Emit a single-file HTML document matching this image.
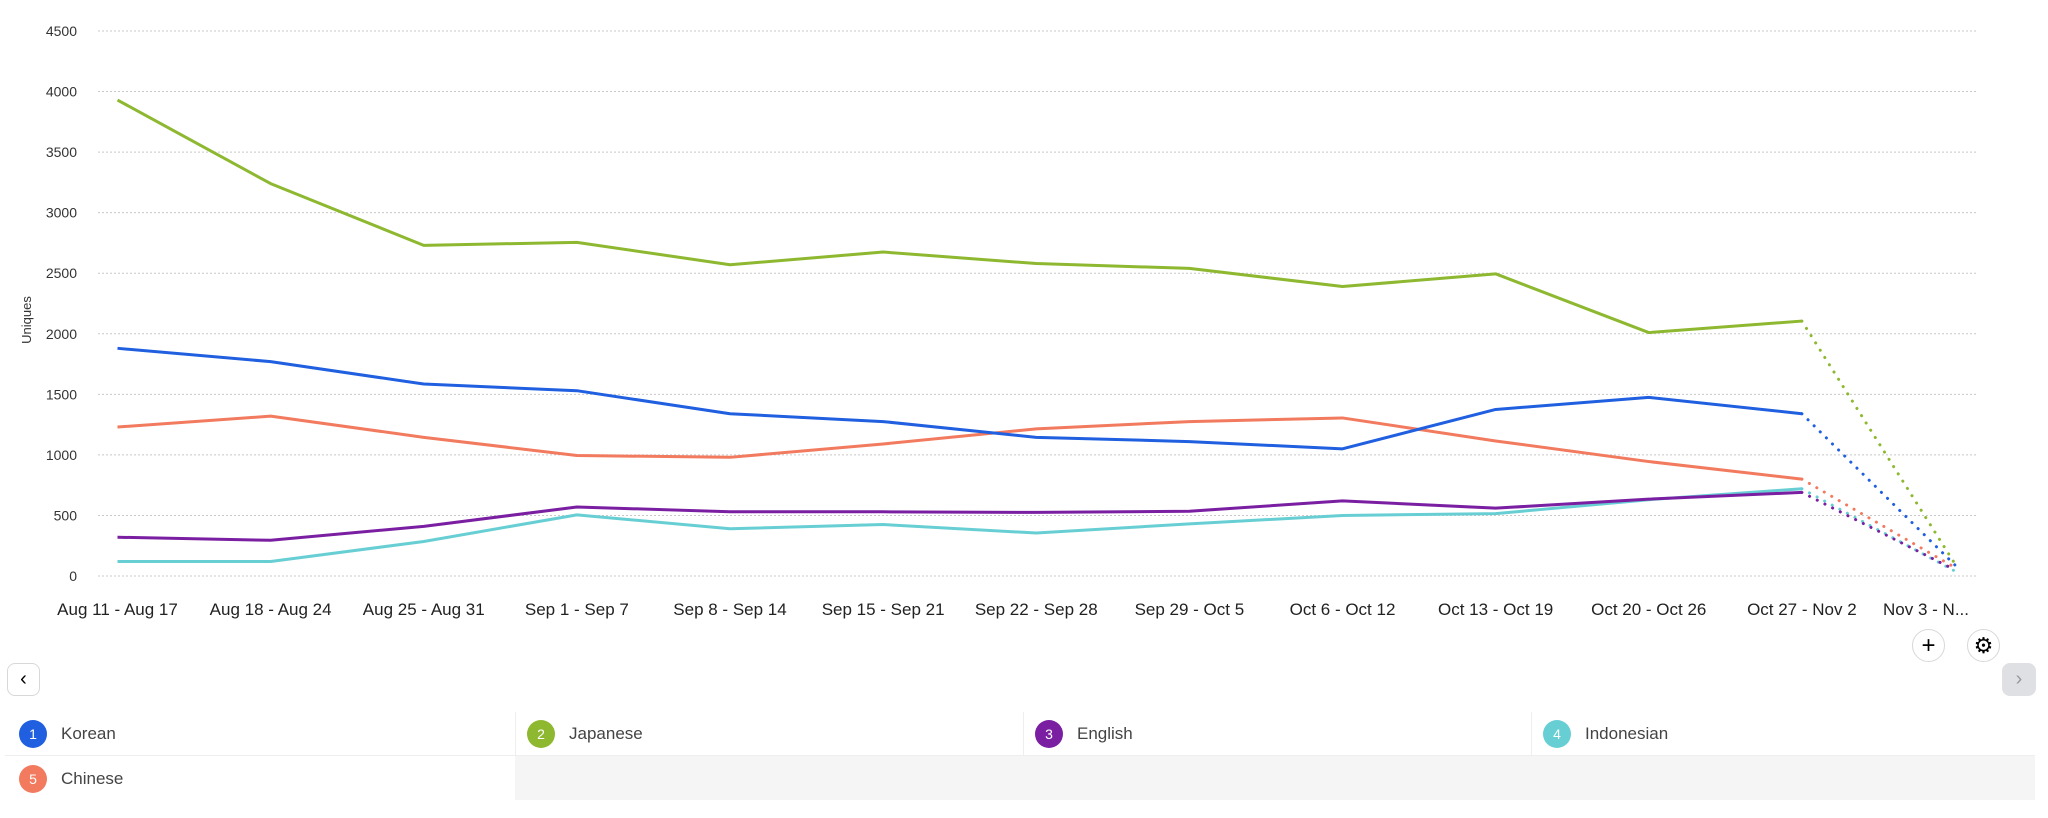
<!DOCTYPE html>
<html><head><meta charset="utf-8"><style>
body{margin:0;width:2048px;height:818px;background:#fff;font-family:"Liberation Sans",sans-serif;overflow:hidden;position:relative}
.btn{position:absolute;border:1px solid #d8d8d8;background:#fff;border-radius:50%;box-sizing:border-box;display:flex;align-items:center;justify-content:center}
.leg{position:absolute;height:43px;display:flex;align-items:center;font-size:17px;color:#444;box-sizing:border-box}
.dot{width:28px;height:28px;border-radius:50%;color:#fff;font-size:14px;display:flex;align-items:center;justify-content:center;margin:0 14px 0 19px}
</style></head><body>
<svg id="chart" width="2048" height="640" style="position:absolute;left:0;top:0"></svg>
<div class="btn" style="left:1912px;top:629px;width:33px;height:33px;font-size:24px">+</div>
<div class="btn" style="left:1967px;top:629px;width:33px;height:33px;font-size:22px">⚙</div>
<div class="btn" style="left:7px;top:663px;width:33px;height:33px;border-radius:8px;font-size:20px">‹</div>
<div class="btn" style="left:2002px;top:663px;width:34px;height:33px;border-radius:8px;background:#dfe0e3;border-color:#dfe0e3;color:#999;font-size:20px">›</div>
<div style="position:absolute;left:0;top:712px;width:2048px;height:90px">
<div style="position:absolute;left:515px;top:43px;width:1520px;height:45px;background:#f5f5f5"></div>
<div style="position:absolute;left:5px;top:43px;width:2030px;border-top:1px solid #eee"></div>
<div style="position:absolute;left:515px;top:0;height:43px;border-left:1px solid #eee"></div>
<div style="position:absolute;left:1023px;top:0;height:43px;border-left:1px solid #eee"></div>
<div style="position:absolute;left:1531px;top:0;height:43px;border-left:1px solid #eee"></div>
<div class="leg" style="left:0;top:0"><span class="dot" style="background:#1f5fe0">1</span>Korean</div>
<div class="leg" style="left:508px;top:0"><span class="dot" style="background:#8db830">2</span>Japanese</div>
<div class="leg" style="left:1016px;top:0"><span class="dot" style="background:#7a1fa2">3</span>English</div>
<div class="leg" style="left:1524px;top:0"><span class="dot" style="background:#67cfd4">4</span>Indonesian</div>
<div class="leg" style="left:0;top:45px"><span class="dot" style="background:#f27a5e">5</span>Chinese</div>
</div>
<script>
const categories=["Aug 11 - Aug 17","Aug 18 - Aug 24","Aug 25 - Aug 31","Sep 1 - Sep 7","Sep 8 - Sep 14","Sep 15 - Sep 21","Sep 22 - Sep 28","Sep 29 - Oct 5","Oct 6 - Oct 12","Oct 13 - Oct 19","Oct 20 - Oct 26","Oct 27 - Nov 2","Nov 3 - N..."];
const yTicks=[0,500,1000,1500,2000,2500,3000,3500,4000,4500];
const korean=[1880,1770,1585,1530,1340,1275,1145,1110,1050,1375,1475,1340,90];
const japanese=[3930,3240,2730,2755,2570,2675,2580,2540,2390,2495,2010,2105,100];
const english=[320,295,410,570,530,530,525,535,620,560,635,690,50];
const indonesian=[120,120,285,505,390,425,355,430,500,515,630,720,40];
const chinese=[1230,1320,1145,995,980,1090,1215,1275,1305,1115,945,800,70];
const series=[["indonesian",indonesian,"#67cfd4"],["english",english,"#7a1fa2"],["chinese",chinese,"#f27a5e"],["korean",korean,"#1f5fe0"],["japanese",japanese,"#8db830"]];
const NS="http://www.w3.org/2000/svg",svg=document.getElementById('chart');
const x=i=>117.5+i*(1955-117.5)/(categories.length-1);
const y=v=>576-v*(576-31)/4500;
function mk(t,a,p){const e=document.createElementNS(NS,t);for(const k in a)e.setAttribute(k,a[k]);(p||svg).appendChild(e);return e;}
yTicks.forEach(t=>{
 const l=mk('line',{x1:98,x2:1976,y1:y(t),y2:y(t),stroke:'#c8c8c8','stroke-dasharray':'2 2'});
 
 
 const tx=mk('text',{x:77,y:y(t)+5,'text-anchor':'end','font-size':14,fill:'#333'});tx.textContent=t;
 
 
});
const yt=mk('text',{x:0,y:0,transform:'translate(31,320) rotate(-90)','text-anchor':'middle','font-size':13,fill:'#333'});yt.textContent='Uniques';


categories.forEach((c,i)=>{
 const last=i===categories.length-1;
 const tx=mk('text',{x:last?1969:x(i),y:615,'text-anchor':last?'end':'middle','font-size':17,fill:'#222'});tx.textContent=c;
 
 
});
series.forEach(([n,d,c])=>{
 const n1=d.length-1;
 const pts=d.slice(0,n1).map((v,i)=>x(i)+','+y(v)).join(' ');
 const p=mk('polyline',{points:pts,fill:'none',stroke:c,'stroke-width':3,'stroke-linejoin':'round'});
 
 
 const dl=mk('line',{x1:x(n1-1),y1:y(d[n1-1]),x2:x(n1),y2:y(d[n1]),stroke:c,'stroke-width':3,'stroke-dasharray':'0.1 8.5','stroke-linecap':'round'});
 
 
});
</script>
</body></html>
